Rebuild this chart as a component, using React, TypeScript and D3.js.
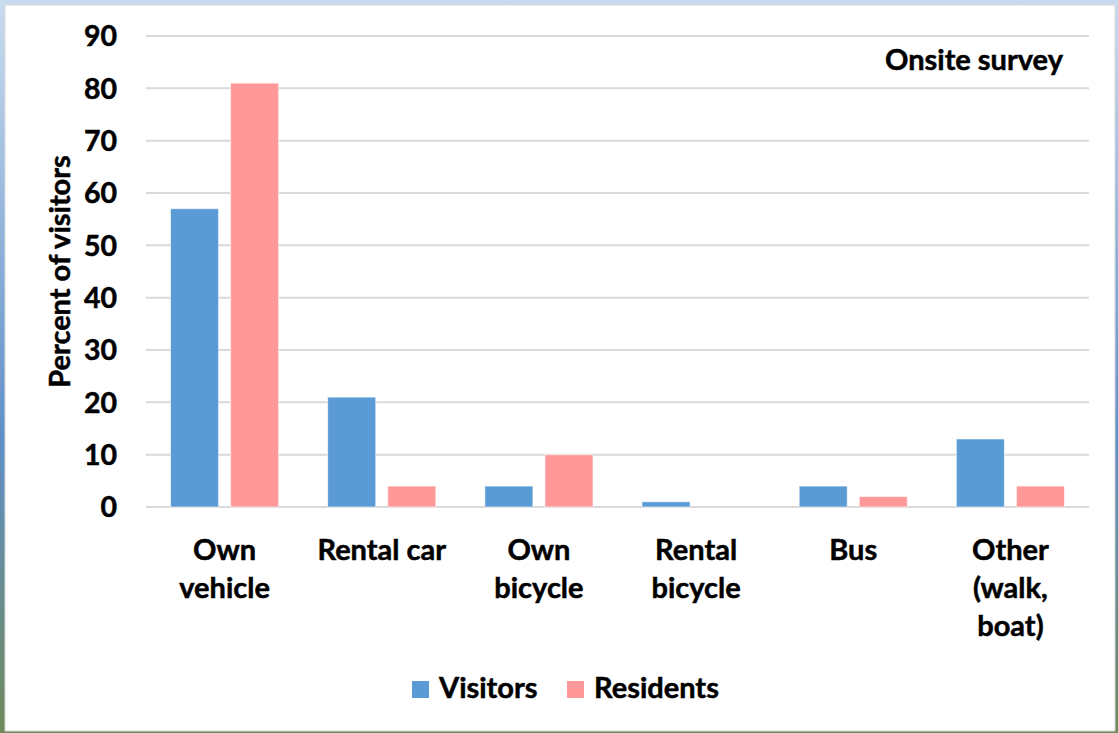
import React from "react";
import * as d3 from "d3";

const categories = [
  ["Own", "vehicle"],
  ["Rental car"],
  ["Own", "bicycle"],
  ["Rental", "bicycle"],
  ["Bus"],
  ["Other", "(walk,", "boat)"],
];
const visitors = [57, 21, 4, 1, 4, 13];
const residents = [81, 4, 10, 0, 2, 4];
const seriesNames = ["Visitors", "Residents"];
const seriesColors = ["#5B9BD5", "#FF9999"];
const yTicks = [0, 10, 20, 30, 40, 50, 60, 70, 80, 90];

const W = 1118;
const H = 733;
const M = { left: 146, right: 1089, top: 36, bottom: 507 };
const FONT = "Lato, 'Open Sans', sans-serif";
const TXT = { fontWeight: 700, fill: "#000", stroke: "#000", strokeWidth: 0.5 } as const;

export default function App() {
  const x = d3
    .scaleBand<number>()
    .domain(d3.range(categories.length))
    .range([M.left, M.right]);
  const inner = d3
    .scaleBand<number>()
    .domain([0, 1])
    .range([24.5, x.bandwidth() - 24.5])
    .paddingInner(0.2);
  const y = d3.scaleLinear().domain([0, 90]).range([M.bottom, M.top]);
  const series = [visitors, residents];

  return (
    <svg
      width={W}
      height={H}
      style={{ position: "absolute", left: 0, top: 0, display: "block" }}
      fontFamily={FONT}
    >
      <defs>
        <linearGradient id="bg" x1="0" y1="0" x2="0" y2="1">
          <stop offset="0" stopColor="#c9dcef" />
          <stop offset="0.6" stopColor="#5f8fc9" />
          <stop offset="1" stopColor="#6f8a5a" />
        </linearGradient>
      </defs>
      <rect x={0} y={0} width={W} height={H} fill="url(#bg)" />
      <rect x={5} y={5} width={1110} height={726} fill="#ffffff" stroke="#d9d9d9" strokeWidth={1} />

      {yTicks.map((t) => (
        <g key={t}>
          <line x1={M.left} x2={M.right} y1={y(t)} y2={y(t)} stroke="#d9d9d9" strokeWidth={2} />
          <text x={117} y={y(t)} dy="0.36em" textAnchor="end" fontSize={28.5} {...TXT}>
            {t}
          </text>
        </g>
      ))}

      {series.map((vals, si) =>
        vals.map((v, i) =>
          v > 0 ? (
            <rect
              key={`${si}-${i}`}
              x={(x(i) as number) + (inner(si) as number)}
              y={y(v)}
              width={inner.bandwidth()}
              height={y(0) - y(v)}
              fill={seriesColors[si]}
              stroke="#ffffff"
              strokeOpacity={0.6}
              strokeWidth={1}
            />
          ) : null
        )
      )}

      {categories.map((lines, i) => (
        <text
          key={i}
          x={(x(i) as number) + x.bandwidth() / 2}
          y={560}
          textAnchor="middle"
          fontSize={29}
          {...TXT}
        >
          {lines.map((l, j) => (
            <tspan key={j} x={(x(i) as number) + x.bandwidth() / 2} dy={j === 0 ? 0 : 38}>
              {l}
            </tspan>
          ))}
        </text>
      ))}

      <text
        transform={`translate(70, ${(M.top + M.bottom) / 2}) rotate(-90)`}
        textAnchor="middle"
        fontSize={29}
        {...TXT}
      >
        Percent of visitors
      </text>

      <text x={1063} y={70} textAnchor="end" fontSize={29} {...TXT}>
        Onsite survey
      </text>

      {seriesNames.map((n, i) => {
        const lx = [412, 567][i];
        return (
          <g key={n}>
            <rect x={lx} y={681} width={17} height={17} fill={seriesColors[i]} />
            <text x={lx + 27} y={698} fontSize={29} {...TXT}>
              {n}
            </text>
          </g>
        );
      })}
    </svg>
  );
}
